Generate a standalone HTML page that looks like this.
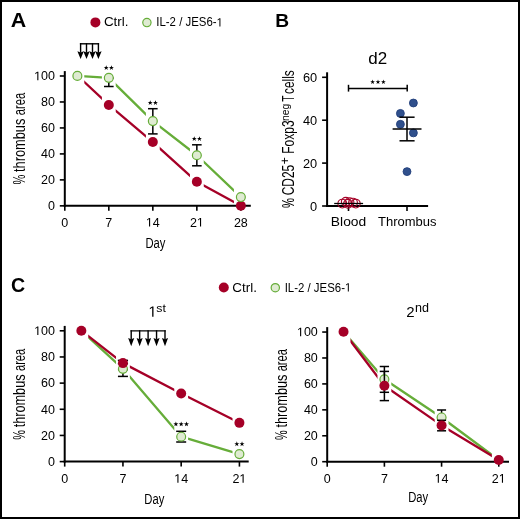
<!DOCTYPE html>
<html><head><meta charset="utf-8"><style>
html,body{margin:0;padding:0;background:#fff;}
#fig{position:relative;width:520px;height:519px;box-sizing:border-box;border:2px solid #000;background:#fff;overflow:hidden;}
svg{position:absolute;left:-2px;top:-2px;will-change:transform;}
text{font-family:"Liberation Sans", sans-serif;fill:#000;}
</style></head><body>
<div id="fig"><svg width="520" height="519" viewBox="0 0 520 519">
<text transform="translate(10.7,27.0) scale(1.11,1)" font-size="19.3" font-weight="bold">A</text>
<circle cx="95.40" cy="22.40" r="5.00" fill="#a50027"/>
<text x="103.90" y="26.40" font-size="12.0" text-anchor="start" font-weight="normal" textLength="24.6" lengthAdjust="spacingAndGlyphs">Ctrl.</text>
<circle cx="146.90" cy="22.60" r="4.15" fill="#dfebd2" stroke="#66ad39" stroke-width="1.2"/>
<text x="156.30" y="26.40" font-size="12.0" text-anchor="start" font-weight="normal" textLength="66.6" lengthAdjust="spacingAndGlyphs">IL-2 / JES6- </text>
<path transform="translate(216.55,26.40) scale(0.00557,-0.00586)" d="M515 0V1237L197 1010V1180L530 1409H696V0Z" fill="#000"/>
<line x1="79.90" y1="43.80" x2="99.10" y2="43.80" stroke="#000" stroke-width="1.4" stroke-linecap="butt"/>
<line x1="80.60" y1="43.10" x2="80.60" y2="52.80" stroke="#000" stroke-width="1.4" stroke-linecap="butt"/>
<polygon points="77.40,51.30 80.60,52.60 83.80,51.30 80.60,59.00" fill="#000"/>
<line x1="86.50" y1="43.10" x2="86.50" y2="52.80" stroke="#000" stroke-width="1.4" stroke-linecap="butt"/>
<polygon points="83.30,51.30 86.50,52.60 89.70,51.30 86.50,59.00" fill="#000"/>
<line x1="92.50" y1="43.10" x2="92.50" y2="52.80" stroke="#000" stroke-width="1.4" stroke-linecap="butt"/>
<polygon points="89.30,51.30 92.50,52.60 95.70,51.30 92.50,59.00" fill="#000"/>
<line x1="98.40" y1="43.10" x2="98.40" y2="52.80" stroke="#000" stroke-width="1.4" stroke-linecap="butt"/>
<polygon points="95.20,51.30 98.40,52.60 101.60,51.30 98.40,59.00" fill="#000"/>
<line x1="64.80" y1="71.10" x2="64.80" y2="206.85" stroke="#000" stroke-width="2.0" stroke-linecap="butt"/>
<line x1="63.80" y1="205.85" x2="250.80" y2="205.85" stroke="#000" stroke-width="2.0" stroke-linecap="butt"/>
<line x1="59.80" y1="205.85" x2="64.80" y2="205.85" stroke="#000" stroke-width="1.6" stroke-linecap="butt"/>
<text x="55.00" y="210.15" font-size="12.5" text-anchor="end" font-weight="normal" >0</text>
<line x1="59.80" y1="179.88" x2="64.80" y2="179.88" stroke="#000" stroke-width="1.6" stroke-linecap="butt"/>
<text x="55.00" y="184.18" font-size="12.5" text-anchor="end" font-weight="normal" >20</text>
<line x1="59.80" y1="153.91" x2="64.80" y2="153.91" stroke="#000" stroke-width="1.6" stroke-linecap="butt"/>
<text x="55.00" y="158.21" font-size="12.5" text-anchor="end" font-weight="normal" >40</text>
<line x1="59.80" y1="127.94" x2="64.80" y2="127.94" stroke="#000" stroke-width="1.6" stroke-linecap="butt"/>
<text x="55.00" y="132.24" font-size="12.5" text-anchor="end" font-weight="normal" >60</text>
<line x1="59.80" y1="101.97" x2="64.80" y2="101.97" stroke="#000" stroke-width="1.6" stroke-linecap="butt"/>
<text x="55.00" y="106.27" font-size="12.5" text-anchor="end" font-weight="normal" >80</text>
<line x1="59.80" y1="76.00" x2="64.80" y2="76.00" stroke="#000" stroke-width="1.6" stroke-linecap="butt"/>
<text x="55.00" y="80.30" font-size="12.5" text-anchor="end" font-weight="normal" > 00</text>
<path transform="translate(34.14,80.30) scale(0.00610,-0.00610)" d="M515 0V1237L197 1010V1180L530 1409H696V0Z" fill="#000"/>
<line x1="64.80" y1="205.85" x2="64.80" y2="210.85" stroke="#000" stroke-width="1.6" stroke-linecap="butt"/>
<text x="64.80" y="226.60" font-size="12.5" text-anchor="middle" font-weight="normal" >0</text>
<line x1="108.82" y1="205.85" x2="108.82" y2="210.85" stroke="#000" stroke-width="1.6" stroke-linecap="butt"/>
<text x="108.82" y="226.60" font-size="12.5" text-anchor="middle" font-weight="normal" >7</text>
<line x1="152.83" y1="205.85" x2="152.83" y2="210.85" stroke="#000" stroke-width="1.6" stroke-linecap="butt"/>
<text x="152.83" y="226.60" font-size="12.5" text-anchor="middle" font-weight="normal" > 4</text>
<path transform="translate(145.88,226.60) scale(0.00610,-0.00610)" d="M515 0V1237L197 1010V1180L530 1409H696V0Z" fill="#000"/>
<line x1="196.85" y1="205.85" x2="196.85" y2="210.85" stroke="#000" stroke-width="1.6" stroke-linecap="butt"/>
<text x="196.85" y="226.60" font-size="12.5" text-anchor="middle" font-weight="normal" >2 </text>
<path transform="translate(196.85,226.60) scale(0.00610,-0.00610)" d="M515 0V1237L197 1010V1180L530 1409H696V0Z" fill="#000"/>
<line x1="240.86" y1="205.85" x2="240.86" y2="210.85" stroke="#000" stroke-width="1.6" stroke-linecap="butt"/>
<text x="240.86" y="226.60" font-size="12.5" text-anchor="middle" font-weight="normal" >28</text>
<text transform="translate(155.40,247.70) scale(0.73,1)" font-size="15.4" text-anchor="middle">Day</text>
<text transform="translate(24.90,184.39) rotate(-90) scale(0.6725,1)" font-size="16.4">%</text>
<text transform="translate(24.90,171.97) rotate(-90) scale(0.7807,1)" font-size="16.4">thrombus</text>
<text transform="translate(24.90,115.33) rotate(-90) scale(0.6863,1)" font-size="16.4">area</text>
<mask id="m1" maskUnits="userSpaceOnUse" x="0" y="0" width="520" height="519"><rect x="0" y="0" width="520" height="519" fill="#fff"/><rect x="70.48" y="0" width="13.80" height="519" fill="#000"/><rect x="101.92" y="0" width="13.80" height="519" fill="#000"/><rect x="145.93" y="0" width="13.80" height="519" fill="#000"/><rect x="189.95" y="0" width="13.80" height="519" fill="#000"/><rect x="233.96" y="0" width="13.80" height="519" fill="#000"/></mask>
<g mask="url(#m1)">
<path d="M77.38,75.50 L108.82,104.95 L152.83,142.08 L196.85,181.82 L240.86,205.80" fill="none" stroke="#a50027" stroke-width="2.3" stroke-linejoin="round"/>
<path d="M77.38,75.89 L108.82,77.85 L152.83,121.11 L196.85,155.24 L240.86,197.07" fill="none" stroke="#66ad39" stroke-width="2.3" stroke-linejoin="round"/>
</g>
<line x1="108.82" y1="78.11" x2="108.82" y2="86.50" stroke="#000" stroke-width="1.5" stroke-linecap="butt"/>
<line x1="104.02" y1="78.11" x2="113.62" y2="78.11" stroke="#000" stroke-width="1.5" stroke-linecap="butt"/>
<line x1="104.02" y1="86.50" x2="113.62" y2="86.50" stroke="#000" stroke-width="1.5" stroke-linecap="butt"/>
<line x1="152.83" y1="108.70" x2="152.83" y2="133.90" stroke="#000" stroke-width="1.5" stroke-linecap="butt"/>
<line x1="148.03" y1="108.70" x2="157.63" y2="108.70" stroke="#000" stroke-width="1.5" stroke-linecap="butt"/>
<line x1="148.03" y1="133.90" x2="157.63" y2="133.90" stroke="#000" stroke-width="1.5" stroke-linecap="butt"/>
<line x1="196.85" y1="144.80" x2="196.85" y2="165.80" stroke="#000" stroke-width="1.5" stroke-linecap="butt"/>
<line x1="192.05" y1="144.80" x2="201.65" y2="144.80" stroke="#000" stroke-width="1.5" stroke-linecap="butt"/>
<line x1="192.05" y1="165.80" x2="201.65" y2="165.80" stroke="#000" stroke-width="1.5" stroke-linecap="butt"/>
<circle cx="108.82" cy="104.95" r="5.00" fill="#a50027"/>
<circle cx="152.83" cy="142.08" r="5.00" fill="#a50027"/>
<circle cx="196.85" cy="181.82" r="5.00" fill="#a50027"/>
<circle cx="240.86" cy="205.80" r="5.00" fill="#a50027"/>
<circle cx="77.38" cy="75.89" r="4.45" fill="#dfebd2" stroke="#66ad39" stroke-width="1.2"/>
<circle cx="108.82" cy="77.85" r="4.45" fill="#dfebd2" stroke="#66ad39" stroke-width="1.2"/>
<circle cx="152.83" cy="121.11" r="4.45" fill="#dfebd2" stroke="#66ad39" stroke-width="1.2"/>
<circle cx="196.85" cy="155.24" r="4.45" fill="#dfebd2" stroke="#66ad39" stroke-width="1.2"/>
<circle cx="240.86" cy="197.07" r="4.45" fill="#dfebd2" stroke="#66ad39" stroke-width="1.2"/>
<polygon points="106.22,65.15 106.82,66.96 108.74,66.98 107.20,68.12 107.77,69.94 106.22,68.83 104.66,69.94 105.23,68.12 103.70,66.98 105.61,66.96" fill="#000"/>
<polygon points="111.42,65.15 112.02,66.96 113.94,66.98 112.40,68.12 112.97,69.94 111.42,68.83 109.86,69.94 110.43,68.12 108.90,66.98 110.81,66.96" fill="#000"/>
<polygon points="150.23,100.15 150.84,101.96 152.75,101.98 151.21,103.12 151.79,104.94 150.23,103.83 148.67,104.94 149.25,103.12 147.71,101.98 149.62,101.96" fill="#000"/>
<polygon points="155.43,100.15 156.04,101.96 157.95,101.98 156.41,103.12 156.99,104.94 155.43,103.83 153.87,104.94 154.45,103.12 152.91,101.98 154.82,101.96" fill="#000"/>
<polygon points="194.25,136.15 194.86,137.96 196.77,137.98 195.23,139.12 195.81,140.94 194.25,139.83 192.69,140.94 193.27,139.12 191.73,137.98 193.64,137.96" fill="#000"/>
<polygon points="199.45,136.15 200.06,137.96 201.97,137.98 200.43,139.12 201.01,140.94 199.45,139.83 197.89,140.94 198.47,139.12 196.93,137.98 198.84,137.96" fill="#000"/>
<text x="275.20" y="26.90" font-size="19.2" text-anchor="start" font-weight="bold" >B</text>
<text x="377.80" y="63.70" font-size="15.8" text-anchor="middle" font-weight="normal" textLength="18.9" lengthAdjust="spacingAndGlyphs">d2</text>
<line x1="327.10" y1="72.30" x2="327.10" y2="207.00" stroke="#000" stroke-width="2.0" stroke-linecap="butt"/>
<line x1="326.10" y1="206.00" x2="428.10" y2="206.00" stroke="#000" stroke-width="2.0" stroke-linecap="butt"/>
<line x1="322.10" y1="206.00" x2="327.10" y2="206.00" stroke="#000" stroke-width="1.6" stroke-linecap="butt"/>
<text x="317.20" y="210.50" font-size="12.8" text-anchor="end" font-weight="normal" >0</text>
<line x1="322.10" y1="163.10" x2="327.10" y2="163.10" stroke="#000" stroke-width="1.6" stroke-linecap="butt"/>
<text x="317.20" y="167.60" font-size="12.8" text-anchor="end" font-weight="normal" >20</text>
<line x1="322.10" y1="120.20" x2="327.10" y2="120.20" stroke="#000" stroke-width="1.6" stroke-linecap="butt"/>
<text x="317.20" y="124.70" font-size="12.8" text-anchor="end" font-weight="normal" >40</text>
<line x1="322.10" y1="77.30" x2="327.10" y2="77.30" stroke="#000" stroke-width="1.6" stroke-linecap="butt"/>
<text x="317.20" y="81.80" font-size="12.8" text-anchor="end" font-weight="normal" >60</text>
<line x1="348.50" y1="206.00" x2="348.50" y2="211.00" stroke="#000" stroke-width="1.6" stroke-linecap="butt"/>
<line x1="407.00" y1="206.00" x2="407.00" y2="211.00" stroke="#000" stroke-width="1.6" stroke-linecap="butt"/>
<text transform="translate(330.86,226.10) scale(1.0494,1)" font-size="13.2" font-weight="normal">Blood</text>
<text transform="translate(378.01,226.30) scale(0.9839,1)" font-size="13.2" font-weight="normal">Thrombus</text>
<text transform="translate(293.80,207.90) rotate(-90) scale(0.7119,1)" font-size="15.8">%</text>
<text transform="translate(293.80,195.31) rotate(-90) scale(0.7578,1)" font-size="15.8">CD25</text>
<text transform="translate(289.30,164.42) rotate(-90) scale(1.0048,1)" font-size="12.7">+</text>
<text transform="translate(293.80,153.79) rotate(-90) scale(0.7609,1)" font-size="15.8">Foxp3</text>
<text transform="translate(288.60,120.98) rotate(-90) scale(1.0174,1)" font-size="10.1">neg</text>
<text transform="translate(293.80,101.83) rotate(-90) scale(0.6492,1)" font-size="15.8">T</text>
<text transform="translate(293.80,94.01) rotate(-90) scale(0.7541,1)" font-size="15.8">cells</text>
<line x1="348.50" y1="88.50" x2="407.20" y2="88.50" stroke="#000" stroke-width="1.5" stroke-linecap="butt"/>
<line x1="348.50" y1="84.80" x2="348.50" y2="91.60" stroke="#000" stroke-width="1.5" stroke-linecap="butt"/>
<line x1="407.20" y1="84.80" x2="407.20" y2="91.60" stroke="#000" stroke-width="1.5" stroke-linecap="butt"/>
<polygon points="372.60,79.50 373.17,81.21 374.98,81.23 373.53,82.30 374.07,84.02 372.60,82.97 371.13,84.02 371.67,82.30 370.22,81.23 372.03,81.21" fill="#000"/>
<polygon points="378.00,79.50 378.57,81.21 380.38,81.23 378.93,82.30 379.47,84.02 378.00,82.97 376.53,84.02 377.07,82.30 375.62,81.23 377.43,81.21" fill="#000"/>
<polygon points="383.40,79.50 383.97,81.21 385.78,81.23 384.33,82.30 384.87,84.02 383.40,82.97 381.93,84.02 382.47,82.30 381.02,81.23 382.83,81.21" fill="#000"/>
<circle cx="342.3" cy="203.6" r="4.4" fill="none" stroke="#a50027" stroke-width="1.1"/>
<circle cx="345.8" cy="201.8" r="4.4" fill="none" stroke="#a50027" stroke-width="1.1"/>
<circle cx="349.5" cy="202.2" r="4.4" fill="none" stroke="#a50027" stroke-width="1.1"/>
<circle cx="353.0" cy="202.6" r="4.4" fill="none" stroke="#a50027" stroke-width="1.1"/>
<circle cx="355.8" cy="203.6" r="4.4" fill="none" stroke="#a50027" stroke-width="1.1"/>
<circle cx="348.0" cy="203.8" r="4.4" fill="none" stroke="#a50027" stroke-width="1.1"/>
<line x1="334.20" y1="203.50" x2="363.10" y2="203.50" stroke="#000" stroke-width="1.3" stroke-linecap="butt"/>
<circle cx="413.4" cy="103.0" r="3.95" fill="#30508c" stroke="#223f7c" stroke-width="0.9"/>
<circle cx="400.4" cy="113.4" r="3.95" fill="#30508c" stroke="#223f7c" stroke-width="0.9"/>
<circle cx="400.4" cy="124.3" r="3.95" fill="#30508c" stroke="#223f7c" stroke-width="0.9"/>
<circle cx="413.4" cy="132.9" r="3.95" fill="#30508c" stroke="#223f7c" stroke-width="0.9"/>
<circle cx="407.0" cy="171.6" r="3.95" fill="#30508c" stroke="#223f7c" stroke-width="0.9"/>
<line x1="392.60" y1="129.00" x2="421.50" y2="129.00" stroke="#000" stroke-width="1.5" stroke-linecap="butt"/>
<line x1="407.00" y1="117.20" x2="407.00" y2="140.80" stroke="#000" stroke-width="1.5" stroke-linecap="butt"/>
<line x1="399.50" y1="117.20" x2="414.60" y2="117.20" stroke="#000" stroke-width="1.5" stroke-linecap="butt"/>
<line x1="399.50" y1="140.80" x2="414.60" y2="140.80" stroke="#000" stroke-width="1.5" stroke-linecap="butt"/>
<text x="11.00" y="292.20" font-size="19.6" text-anchor="start" font-weight="bold" >C</text>
<circle cx="223.80" cy="287.50" r="5.00" fill="#a50027"/>
<text x="232.30" y="291.50" font-size="12.0" text-anchor="start" font-weight="normal" textLength="24.6" lengthAdjust="spacingAndGlyphs">Ctrl.</text>
<circle cx="275.30" cy="287.70" r="4.15" fill="#dfebd2" stroke="#66ad39" stroke-width="1.2"/>
<text x="284.70" y="291.50" font-size="12.0" text-anchor="start" font-weight="normal" textLength="66.6" lengthAdjust="spacingAndGlyphs">IL-2 / JES6- </text>
<path transform="translate(344.95,291.50) scale(0.00557,-0.00586)" d="M515 0V1237L197 1010V1180L530 1409H696V0Z" fill="#000"/>
<text x="148.40" y="316.70" font-size="15.0" text-anchor="start" font-weight="normal" > </text>
<path transform="translate(148.40,316.70) scale(0.00732,-0.00732)" d="M515 0V1237L197 1010V1180L530 1409H696V0Z" fill="#000"/>
<text x="156.30" y="312.20" font-size="11.0" text-anchor="start" font-weight="normal" textLength="9.6" lengthAdjust="spacingAndGlyphs">st</text>
<line x1="130.50" y1="330.90" x2="165.70" y2="330.90" stroke="#000" stroke-width="1.4" stroke-linecap="butt"/>
<line x1="131.20" y1="330.20" x2="131.20" y2="339.50" stroke="#000" stroke-width="1.4" stroke-linecap="butt"/>
<polygon points="128.15,338.00 131.20,339.30 134.25,338.00 131.20,346.30" fill="#000"/>
<line x1="139.65" y1="330.20" x2="139.65" y2="339.50" stroke="#000" stroke-width="1.4" stroke-linecap="butt"/>
<polygon points="136.60,338.00 139.65,339.30 142.70,338.00 139.65,346.30" fill="#000"/>
<line x1="148.10" y1="330.20" x2="148.10" y2="339.50" stroke="#000" stroke-width="1.4" stroke-linecap="butt"/>
<polygon points="145.05,338.00 148.10,339.30 151.15,338.00 148.10,346.30" fill="#000"/>
<line x1="156.55" y1="330.20" x2="156.55" y2="339.50" stroke="#000" stroke-width="1.4" stroke-linecap="butt"/>
<polygon points="153.50,338.00 156.55,339.30 159.60,338.00 156.55,346.30" fill="#000"/>
<line x1="165.00" y1="330.20" x2="165.00" y2="339.50" stroke="#000" stroke-width="1.4" stroke-linecap="butt"/>
<polygon points="161.95,338.00 165.00,339.30 168.05,338.00 165.00,346.30" fill="#000"/>
<line x1="64.70" y1="325.90" x2="64.70" y2="462.60" stroke="#000" stroke-width="2.0" stroke-linecap="butt"/>
<line x1="63.70" y1="461.60" x2="248.70" y2="461.60" stroke="#000" stroke-width="2.0" stroke-linecap="butt"/>
<line x1="59.70" y1="461.60" x2="64.70" y2="461.60" stroke="#000" stroke-width="1.6" stroke-linecap="butt"/>
<text x="55.00" y="465.90" font-size="12.5" text-anchor="end" font-weight="normal" >0</text>
<line x1="59.70" y1="435.44" x2="64.70" y2="435.44" stroke="#000" stroke-width="1.6" stroke-linecap="butt"/>
<text x="55.00" y="439.74" font-size="12.5" text-anchor="end" font-weight="normal" >20</text>
<line x1="59.70" y1="409.28" x2="64.70" y2="409.28" stroke="#000" stroke-width="1.6" stroke-linecap="butt"/>
<text x="55.00" y="413.58" font-size="12.5" text-anchor="end" font-weight="normal" >40</text>
<line x1="59.70" y1="383.12" x2="64.70" y2="383.12" stroke="#000" stroke-width="1.6" stroke-linecap="butt"/>
<text x="55.00" y="387.42" font-size="12.5" text-anchor="end" font-weight="normal" >60</text>
<line x1="59.70" y1="356.96" x2="64.70" y2="356.96" stroke="#000" stroke-width="1.6" stroke-linecap="butt"/>
<text x="55.00" y="361.26" font-size="12.5" text-anchor="end" font-weight="normal" >80</text>
<line x1="59.70" y1="330.80" x2="64.70" y2="330.80" stroke="#000" stroke-width="1.6" stroke-linecap="butt"/>
<text x="55.00" y="335.10" font-size="12.5" text-anchor="end" font-weight="normal" > 00</text>
<path transform="translate(34.14,335.10) scale(0.00610,-0.00610)" d="M515 0V1237L197 1010V1180L530 1409H696V0Z" fill="#000"/>
<line x1="64.70" y1="461.60" x2="64.70" y2="466.60" stroke="#000" stroke-width="1.6" stroke-linecap="butt"/>
<text x="64.70" y="482.80" font-size="12.5" text-anchor="middle" font-weight="normal" >0</text>
<line x1="122.94" y1="461.60" x2="122.94" y2="466.60" stroke="#000" stroke-width="1.6" stroke-linecap="butt"/>
<text x="122.94" y="482.80" font-size="12.5" text-anchor="middle" font-weight="normal" >7</text>
<line x1="181.18" y1="461.60" x2="181.18" y2="466.60" stroke="#000" stroke-width="1.6" stroke-linecap="butt"/>
<text x="181.18" y="482.80" font-size="12.5" text-anchor="middle" font-weight="normal" > 4</text>
<path transform="translate(174.23,482.80) scale(0.00610,-0.00610)" d="M515 0V1237L197 1010V1180L530 1409H696V0Z" fill="#000"/>
<line x1="239.42" y1="461.60" x2="239.42" y2="466.60" stroke="#000" stroke-width="1.6" stroke-linecap="butt"/>
<text x="239.42" y="482.80" font-size="12.5" text-anchor="middle" font-weight="normal" >2 </text>
<path transform="translate(239.42,482.80) scale(0.00610,-0.00610)" d="M515 0V1237L197 1010V1180L530 1409H696V0Z" fill="#000"/>
<text transform="translate(154.30,504.00) scale(0.73,1)" font-size="15.4" text-anchor="middle">Day</text>
<text transform="translate(25.00,439.69) rotate(-90) scale(0.6680,1)" font-size="16.4">%</text>
<text transform="translate(25.00,427.35) rotate(-90) scale(0.7756,1)" font-size="16.4">thrombus</text>
<text transform="translate(25.00,371.08) rotate(-90) scale(0.6818,1)" font-size="16.4">area</text>
<mask id="m2" maskUnits="userSpaceOnUse" x="0" y="0" width="520" height="519"><rect x="0" y="0" width="520" height="519" fill="#fff"/><rect x="74.44" y="0" width="13.80" height="519" fill="#000"/><rect x="116.04" y="0" width="13.80" height="519" fill="#000"/><rect x="174.28" y="0" width="13.80" height="519" fill="#000"/><rect x="232.52" y="0" width="13.80" height="519" fill="#000"/></mask>
<g mask="url(#m2)">
<path d="M81.34,330.70 L122.94,368.86 L181.18,436.70 L239.42,454.08" fill="none" stroke="#66ad39" stroke-width="2.3" stroke-linejoin="round"/>
<path d="M81.34,330.70 L122.94,363.11 L181.18,393.44 L239.42,422.84" fill="none" stroke="#a50027" stroke-width="2.3" stroke-linejoin="round"/>
</g>
<line x1="122.94" y1="360.40" x2="122.94" y2="363.64" stroke="#000" stroke-width="1.5" stroke-linecap="butt"/>
<line x1="117.84" y1="360.40" x2="128.04" y2="360.40" stroke="#000" stroke-width="1.5" stroke-linecap="butt"/>
<line x1="117.84" y1="363.64" x2="128.04" y2="363.64" stroke="#000" stroke-width="1.5" stroke-linecap="butt"/>
<line x1="122.94" y1="369.65" x2="122.94" y2="376.40" stroke="#000" stroke-width="1.5" stroke-linecap="butt"/>
<line x1="117.94" y1="369.65" x2="127.94" y2="369.65" stroke="#000" stroke-width="1.5" stroke-linecap="butt"/>
<line x1="117.94" y1="376.40" x2="127.94" y2="376.40" stroke="#000" stroke-width="1.5" stroke-linecap="butt"/>
<line x1="181.18" y1="431.30" x2="181.18" y2="442.00" stroke="#000" stroke-width="1.5" stroke-linecap="butt"/>
<line x1="176.18" y1="431.30" x2="186.18" y2="431.30" stroke="#000" stroke-width="1.5" stroke-linecap="butt"/>
<line x1="176.18" y1="442.00" x2="186.18" y2="442.00" stroke="#000" stroke-width="1.5" stroke-linecap="butt"/>
<circle cx="122.94" cy="368.86" r="4.45" fill="#dfebd2" stroke="#66ad39" stroke-width="1.2"/>
<circle cx="181.18" cy="436.70" r="4.45" fill="#dfebd2" stroke="#66ad39" stroke-width="1.2"/>
<circle cx="239.42" cy="454.08" r="4.45" fill="#dfebd2" stroke="#66ad39" stroke-width="1.2"/>
<circle cx="81.34" cy="330.70" r="5.00" fill="#a50027"/>
<circle cx="122.94" cy="363.11" r="5.00" fill="#a50027"/>
<circle cx="181.18" cy="393.44" r="5.00" fill="#a50027"/>
<circle cx="239.42" cy="422.84" r="5.00" fill="#a50027"/>
<polygon points="175.88,421.55 176.49,423.36 178.40,423.38 176.86,424.52 177.44,426.34 175.88,425.23 174.32,426.34 174.90,424.52 173.36,423.38 175.27,423.36" fill="#000"/>
<polygon points="181.18,421.55 181.79,423.36 183.70,423.38 182.16,424.52 182.74,426.34 181.18,425.23 179.62,426.34 180.20,424.52 178.66,423.38 180.57,423.36" fill="#000"/>
<polygon points="186.48,421.55 187.09,423.36 189.00,423.38 187.46,424.52 188.04,426.34 186.48,425.23 184.92,426.34 185.50,424.52 183.96,423.38 185.87,423.36" fill="#000"/>
<polygon points="236.82,441.35 237.43,443.16 239.34,443.18 237.80,444.32 238.38,446.14 236.82,445.03 235.26,446.14 235.84,444.32 234.30,443.18 236.21,443.16" fill="#000"/>
<polygon points="242.02,441.35 242.63,443.16 244.54,443.18 243.00,444.32 243.58,446.14 242.02,445.03 240.46,446.14 241.04,444.32 239.50,443.18 241.41,443.16" fill="#000"/>
<text x="406.20" y="317.00" font-size="15.0" text-anchor="start" font-weight="normal" >2</text>
<text x="415.10" y="311.90" font-size="12.0" text-anchor="start" font-weight="normal" textLength="14.0" lengthAdjust="spacingAndGlyphs">nd</text>
<line x1="327.20" y1="327.10" x2="327.20" y2="462.70" stroke="#000" stroke-width="2.0" stroke-linecap="butt"/>
<line x1="326.20" y1="461.70" x2="509.00" y2="461.70" stroke="#000" stroke-width="2.0" stroke-linecap="butt"/>
<line x1="322.20" y1="461.70" x2="327.20" y2="461.70" stroke="#000" stroke-width="1.6" stroke-linecap="butt"/>
<text x="317.80" y="466.00" font-size="12.5" text-anchor="end" font-weight="normal" >0</text>
<line x1="322.20" y1="435.77" x2="327.20" y2="435.77" stroke="#000" stroke-width="1.6" stroke-linecap="butt"/>
<text x="317.80" y="440.07" font-size="12.5" text-anchor="end" font-weight="normal" >20</text>
<line x1="322.20" y1="409.84" x2="327.20" y2="409.84" stroke="#000" stroke-width="1.6" stroke-linecap="butt"/>
<text x="317.80" y="414.14" font-size="12.5" text-anchor="end" font-weight="normal" >40</text>
<line x1="322.20" y1="383.91" x2="327.20" y2="383.91" stroke="#000" stroke-width="1.6" stroke-linecap="butt"/>
<text x="317.80" y="388.21" font-size="12.5" text-anchor="end" font-weight="normal" >60</text>
<line x1="322.20" y1="357.98" x2="327.20" y2="357.98" stroke="#000" stroke-width="1.6" stroke-linecap="butt"/>
<text x="317.80" y="362.28" font-size="12.5" text-anchor="end" font-weight="normal" >80</text>
<line x1="322.20" y1="332.05" x2="327.20" y2="332.05" stroke="#000" stroke-width="1.6" stroke-linecap="butt"/>
<text x="317.80" y="336.35" font-size="12.5" text-anchor="end" font-weight="normal" > 00</text>
<path transform="translate(296.94,336.35) scale(0.00610,-0.00610)" d="M515 0V1237L197 1010V1180L530 1409H696V0Z" fill="#000"/>
<line x1="327.20" y1="461.70" x2="327.20" y2="466.70" stroke="#000" stroke-width="1.6" stroke-linecap="butt"/>
<text x="327.20" y="482.70" font-size="12.5" text-anchor="middle" font-weight="normal" >0</text>
<line x1="384.39" y1="461.70" x2="384.39" y2="466.70" stroke="#000" stroke-width="1.6" stroke-linecap="butt"/>
<text x="384.39" y="482.70" font-size="12.5" text-anchor="middle" font-weight="normal" >7</text>
<line x1="441.58" y1="461.70" x2="441.58" y2="466.70" stroke="#000" stroke-width="1.6" stroke-linecap="butt"/>
<text x="441.58" y="482.70" font-size="12.5" text-anchor="middle" font-weight="normal" > 4</text>
<path transform="translate(434.63,482.70) scale(0.00610,-0.00610)" d="M515 0V1237L197 1010V1180L530 1409H696V0Z" fill="#000"/>
<line x1="498.77" y1="461.70" x2="498.77" y2="466.70" stroke="#000" stroke-width="1.6" stroke-linecap="butt"/>
<text x="498.77" y="482.70" font-size="12.5" text-anchor="middle" font-weight="normal" >2 </text>
<path transform="translate(498.77,482.70) scale(0.00610,-0.00610)" d="M515 0V1237L197 1010V1180L530 1409H696V0Z" fill="#000"/>
<text transform="translate(418.20,502.00) scale(0.73,1)" font-size="15.4" text-anchor="middle">Day</text>
<text transform="translate(287.10,439.89) rotate(-90) scale(0.6673,1)" font-size="16.4">%</text>
<text transform="translate(287.10,427.56) rotate(-90) scale(0.7747,1)" font-size="16.4">thrombus</text>
<text transform="translate(287.10,371.35) rotate(-90) scale(0.6810,1)" font-size="16.4">area</text>
<mask id="m3" maskUnits="userSpaceOnUse" x="0" y="0" width="520" height="519"><rect x="0" y="0" width="520" height="519" fill="#fff"/><rect x="336.64" y="0" width="13.80" height="519" fill="#000"/><rect x="377.49" y="0" width="13.80" height="519" fill="#000"/><rect x="434.68" y="0" width="13.80" height="519" fill="#000"/><rect x="491.87" y="0" width="13.80" height="519" fill="#000"/></mask>
<g mask="url(#m3)">
<path d="M343.54,331.80 L384.39,379.25 L441.58,417.47 L498.77,459.98" fill="none" stroke="#66ad39" stroke-width="2.3" stroke-linejoin="round"/>
<path d="M343.54,331.80 L384.39,385.75 L441.58,425.40 L498.77,459.98" fill="none" stroke="#a50027" stroke-width="2.3" stroke-linejoin="round"/>
</g>
<line x1="384.39" y1="366.50" x2="384.39" y2="392.30" stroke="#000" stroke-width="1.5" stroke-linecap="butt"/>
<line x1="379.74" y1="366.50" x2="389.04" y2="366.50" stroke="#000" stroke-width="1.5" stroke-linecap="butt"/>
<line x1="379.74" y1="392.30" x2="389.04" y2="392.30" stroke="#000" stroke-width="1.5" stroke-linecap="butt"/>
<line x1="441.58" y1="410.00" x2="441.58" y2="425.20" stroke="#000" stroke-width="1.5" stroke-linecap="butt"/>
<line x1="437.08" y1="410.00" x2="446.08" y2="410.00" stroke="#000" stroke-width="1.5" stroke-linecap="butt"/>
<line x1="437.08" y1="425.20" x2="446.08" y2="425.20" stroke="#000" stroke-width="1.5" stroke-linecap="butt"/>
<circle cx="384.39" cy="379.25" r="4.45" fill="#dfebd2" stroke="#66ad39" stroke-width="1.2"/>
<circle cx="441.58" cy="417.47" r="4.45" fill="#dfebd2" stroke="#66ad39" stroke-width="1.2"/>
<line x1="384.39" y1="371.40" x2="384.39" y2="400.60" stroke="#000" stroke-width="1.5" stroke-linecap="butt"/>
<line x1="379.74" y1="371.40" x2="389.04" y2="371.40" stroke="#000" stroke-width="1.5" stroke-linecap="butt"/>
<line x1="379.74" y1="400.60" x2="389.04" y2="400.60" stroke="#000" stroke-width="1.5" stroke-linecap="butt"/>
<line x1="441.58" y1="420.30" x2="441.58" y2="430.80" stroke="#000" stroke-width="1.5" stroke-linecap="butt"/>
<line x1="437.08" y1="420.30" x2="446.08" y2="420.30" stroke="#000" stroke-width="1.5" stroke-linecap="butt"/>
<line x1="437.08" y1="430.80" x2="446.08" y2="430.80" stroke="#000" stroke-width="1.5" stroke-linecap="butt"/>
<circle cx="343.54" cy="331.80" r="5.00" fill="#a50027"/>
<circle cx="384.39" cy="385.75" r="5.00" fill="#a50027"/>
<circle cx="441.58" cy="425.40" r="5.00" fill="#a50027"/>
<circle cx="498.77" cy="459.98" r="5.00" fill="#a50027"/>
</svg></div>
</body></html>
